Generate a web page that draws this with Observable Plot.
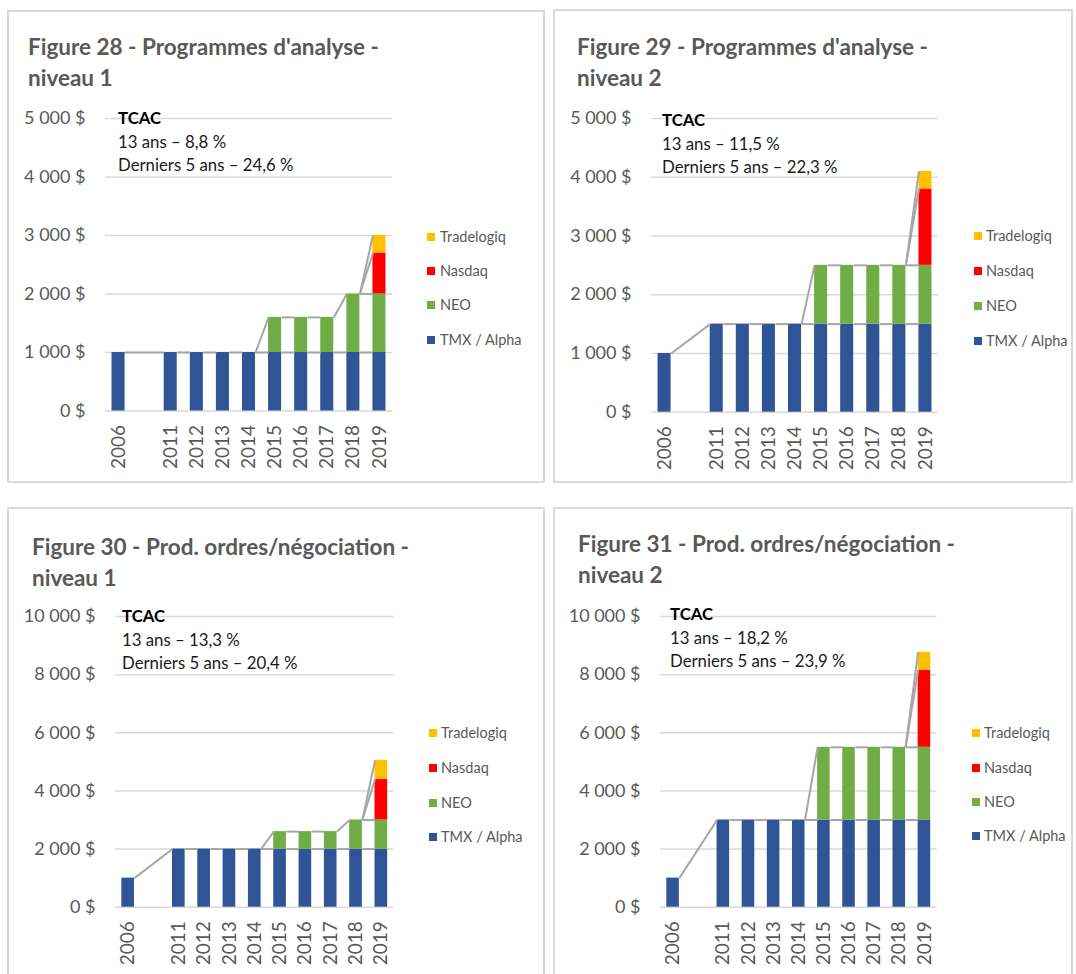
<!DOCTYPE html>
<html><head><meta charset="utf-8">
<script src="https://cdn.jsdelivr.net/npm/d3@7"></script>
<script src="https://cdn.jsdelivr.net/npm/@observablehq/plot@0.6"></script>
<style>
body{margin:0;background:#fff}
#root{position:relative;width:1076px;height:974px;overflow:hidden;background:#fff;font-family:Lato,"Open Sans",sans-serif}
.box{position:absolute;border:2px solid #d9d9d9;box-sizing:border-box}
.title{position:absolute;font-weight:700;font-size:22.5px;line-height:31px;color:#595959;white-space:nowrap}
.note{position:absolute;font-size:16.8px;line-height:23.5px;color:#1a1a1a;white-space:nowrap}
.note b{color:#000}
.sq{position:absolute;width:8px;height:8px}
.lt{position:absolute;font-size:14.5px;line-height:16px;color:#595959;white-space:nowrap}
.chart{position:absolute}
</style></head>
<body><div id="root"></div>
<script>
// ---- data ----
const categories = ["2006", "", "2011", "2012", "2013", "2014", "2015", "2016", "2017", "2018", "2019"];
const seriesNames = ["TMX / Alpha", "NEO", "Nasdaq", "Tradelogiq"];
const seriesColors = ["#2f5597", "#70ad47", "#ff0000", "#ffc000"];
const titles = [
  ["Figure 28 - Programmes d'analyse -", "niveau 1"],
  ["Figure 29 - Programmes d'analyse -", "niveau 2"],
  ["Figure 30 - Prod. ordres/négociation -", "niveau 1"],
  ["Figure 31 - Prod. ordres/négociation -", "niveau 2"]
];
const noteHead = "TCAC";
const cagr13 = ["8,8 %", "11,5 %", "13,3 %", "18,2 %"];
const cagr5 = ["24,6 %", "22,3 %", "20,4 %", "23,9 %"];
const yMax = [5000, 5000, 10000, 10000];

const fig28Tmx        = [1000, 0, 1000, 1000, 1000, 1000, 1000, 1000, 1000, 1000, 1000];
const fig28Neo        = [0, 0, 0, 0, 0, 0, 600, 600, 600, 1000, 1000];
const fig28Nasdaq     = [0, 0, 0, 0, 0, 0, 0, 0, 0, 0, 700];
const fig28Tradelogiq = [0, 0, 0, 0, 0, 0, 0, 0, 0, 0, 300];

const fig29Tmx        = [1000, 0, 1500, 1500, 1500, 1500, 1500, 1500, 1500, 1500, 1500];
const fig29Neo        = [0, 0, 0, 0, 0, 0, 1000, 1000, 1000, 1000, 1000];
const fig29Nasdaq     = [0, 0, 0, 0, 0, 0, 0, 0, 0, 0, 1300];
const fig29Tradelogiq = [0, 0, 0, 0, 0, 0, 0, 0, 0, 0, 300];

const fig30Tmx        = [1000, 0, 2000, 2000, 2000, 2000, 2000, 2000, 2000, 2000, 2000];
const fig30Neo        = [0, 0, 0, 0, 0, 0, 600, 600, 600, 1000, 1000];
const fig30Nasdaq     = [0, 0, 0, 0, 0, 0, 0, 0, 0, 0, 1400];
const fig30Tradelogiq = [0, 0, 0, 0, 0, 0, 0, 0, 0, 0, 650];

const fig31Tmx        = [1000, 0, 3000, 3000, 3000, 3000, 3000, 3000, 3000, 3000, 3000];
const fig31Neo        = [0, 0, 0, 0, 0, 0, 2500, 2500, 2500, 2500, 2500];
const fig31Nasdaq     = [0, 0, 0, 0, 0, 0, 0, 0, 0, 0, 2650];
const fig31Tradelogiq = [0, 0, 0, 0, 0, 0, 0, 0, 0, 0, 620];

const figures = [
  [fig28Tmx, fig28Neo, fig28Nasdaq, fig28Tradelogiq],
  [fig29Tmx, fig29Neo, fig29Nasdaq, fig29Tradelogiq],
  [fig30Tmx, fig30Neo, fig30Nasdaq, fig30Tradelogiq],
  [fig31Tmx, fig31Neo, fig31Nasdaq, fig31Tradelogiq]
];

// ---- layout ----
const layouts = [
  {box:[7,10,538,473],  title:[28,30.5],  plot:[105,117.5,287,292.5], note:[118,106],  sq:427, tx:440, rows:[237,271,305,340]},
  {box:[553,9,520,474], title:[577,31],   plot:[650.6,118,287,293.7], note:[662,108],  sq:974, tx:986, rows:[236,271,306,341]},
  {box:[7,507,538,480], title:[32,530.5], plot:[114.5,616,278.5,290.7], note:[122,604], sq:429, tx:441, rows:[733,768,803,837]},
  {box:[553,507,520,480], title:[578,527.5], plot:[660.3,616,276.5,290.7], note:[670,602], sq:972, tx:984, rows:[733,768,802,836]}
];
const halfBar = 0.25;
const mL = 100, mT = 20, mR = 10, mB = 70;

const root = document.getElementById("root");
const fmtMoney = d => String(d).replace(/\B(?=(\d{3})+(?!\d))/g, "\u00a0") + "\u00a0$";
const tickIdx = categories.map((c, i) => c === "" ? null : i).filter(i => i !== null);

function el(tag, cls, css, html) {
  const e = document.createElement(tag);
  if (cls) e.className = cls;
  Object.assign(e.style, css || {});
  if (html != null) e.innerHTML = html;
  root.appendChild(e);
  return e;
}

figures.forEach((stacks, k) => {
  const L = layouts[k];
  el("div", "box", {left: L.box[0]+"px", top: L.box[1]+"px", width: L.box[2]+"px", height: L.box[3]+"px"});
  el("div", "title", {left: L.title[0]+"px", top: L.title[1]+"px"}, titles[k][0] + "<br>" + titles[k][1]);

  const rects = [], bars = [];
  categories.forEach((c, i) => {
    if (c === "") return;
    let acc = 0; const tops = [];
    stacks.forEach((arr, s) => {
      const v = arr[i];
      if (v > 0) rects.push({i, s: seriesNames[s], y1: acc, y2: acc + v});
      acc += v; tops.push(acc);
    });
    bars.push({i, tops});
  });
  const links = [];
  for (let b = 1; b < bars.length; b++) {
    const a = bars[b-1], c = bars[b], seen = new Set();
    for (let s = 0; s < seriesNames.length; s++) {
      const key = a.tops[s] + "|" + c.tops[s];
      if (seen.has(key)) continue;
      seen.add(key);
      links.push({x1: a.i, x2: c.i, y1: a.tops[s], y2: c.tops[s]});
    }
  }

  const [px, py, pw, ph] = L.plot;
  const chart = Plot.plot({
    width: pw + mL + mR, height: ph + mT + mB,
    marginLeft: mL, marginTop: mT, marginRight: mR, marginBottom: mB,
    x: {type: "linear", domain: [-0.5, categories.length - 0.5]},
    y: {domain: [0, yMax[k]]},
    color: {domain: seriesNames, range: seriesColors},
    style: {fontFamily: "Lato, sans-serif", fontSize: "18px", color: "#595959", background: "transparent", overflow: "visible"},
    marks: [
      Plot.gridY({ticks: 5, stroke: "#d9d9d9", strokeOpacity: 1, strokeWidth: 1.5}),
      Plot.rectY(rects, {x1: d => d.i - halfBar, x2: d => d.i + halfBar, y1: "y1", y2: "y2", fill: "s"}),
      Plot.link(links, {x1: d => d.x1 + halfBar, x2: d => d.x2 - halfBar, y1: "y1", y2: "y2", stroke: "#a6a6a6", strokeWidth: 2}),
      Plot.axisY({ticks: 5, tickSize: 0, tickPadding: 20, tickFormat: fmtMoney, label: null}),
      Plot.axisX({ticks: tickIdx, tickFormat: i => categories[i], tickSize: 0, tickPadding: 14, tickRotate: -90, label: null, fontSize: 19})
    ]
  });
  chart.classList.add("chart");
  chart.style.left = (px - mL) + "px";
  chart.style.top = (py - mT) + "px";
  root.appendChild(chart);

  el("div", "note", {left: L.note[0]+"px", top: L.note[1]+"px"},
     "<b>" + noteHead + "</b><br>13 ans – " + cagr13[k] + "<br>Derniers 5 ans – " + cagr5[k]);

  // legend, top to bottom in reverse series order
  seriesNames.slice().reverse().forEach((name, r) => {
    const color = seriesColors[seriesNames.indexOf(name)];
    const y = L.rows[r];
    el("div", "sq", {left: L.sq+"px", top: (y-4)+"px", background: color});
    el("div", "lt", {left: L.tx+"px", top: (y-8)+"px"}, name);
  });
});
</script>
</body></html>
